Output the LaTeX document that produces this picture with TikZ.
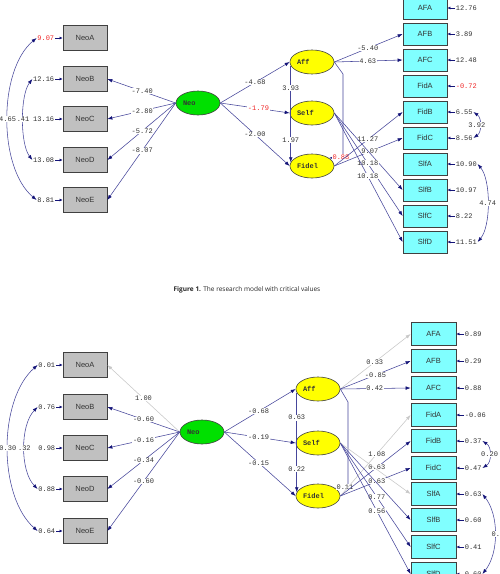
\documentclass[tikz,border=0pt]{standalone}
\usepackage{fontspec}
\setmainfont{Liberation Sans}
\newfontfamily\monof{Liberation Mono}
\newfontfamily\capf{Open Sans}
\usetikzlibrary{arrows.meta,shapes.geometric}
\definecolor{pathc}{RGB}{70,70,155}
\definecolor{tipc}{RGB}{20,20,120}
\definecolor{boxgray}{RGB}{192,192,192}
\definecolor{boxcyan}{RGB}{128,255,255}
\definecolor{latyel}{RGB}{255,255,0}
\definecolor{latgrn}{RGB}{0,224,0}
\definecolor{fixc}{RGB}{200,200,200}
\definecolor{txtc}{RGB}{50,50,50}
\definecolor{redc}{RGB}{240,40,40}
\tikzset{
 lbl/.style={font=\monof\fontsize{7}{8}\selectfont, text=txtc, fill=white, inner sep=0.6pt},
 rlbl/.style={lbl, text=redc},
 elbl/.style={font=\monof\fontsize{7}{8}\selectfont, text=txtc, inner sep=0.6pt},
 relbl/.style={elbl, text=redc},
 obsl/.style={rectangle, draw=black!75, line width=0.7pt, fill=boxgray, minimum width=44pt, minimum height=25pt, inner sep=0pt, font=\fontsize{7.5}{8}\selectfont, text=txtc},
 obsr/.style={obsl, fill=boxcyan, minimum height=22pt},
 obsrb/.style={obsl, fill=boxcyan, minimum width=45pt, minimum height=23pt},
 latv/.style={ellipse, draw=black!75, line width=0.6pt, fill=latyel, minimum width=44pt, minimum height=24pt, inner sep=0pt, text width=30pt, align=left, font=\monof\bfseries\fontsize{7}{8}\selectfont, text=black!80},
 pth/.style={draw=pathc, line width=0.55pt, -{Latex[length=5pt,width=3.6pt,color=tipc]}},
 fix/.style={draw=fixc, line width=0.55pt, -{Latex[length=5pt,width=3.6pt,color=fixc]}},
 err/.style={draw=tipc, line width=0.8pt, -{Latex[length=3pt,width=3pt]}},
 cov/.style={draw=pathc, line width=0.55pt, {Latex[length=5pt,width=3.6pt,color=tipc]}-{Latex[length=5pt,width=3.6pt,color=tipc]}},
}
\begin{document}
\begin{tikzpicture}[x=1pt,y=-1pt]
\useasboundingbox[fill=white] (0,0) rectangle (499,574);

%================ TOP DIAGRAM =================
\node[obsl] (tNeoA) at (85,38) {NeoA};
\node[obsl] (tNeoB) at (85,79) {NeoB};
\node[obsl] (tNeoC) at (85,119) {NeoC};
\node[obsl] (tNeoD) at (85,160) {NeoD};
\node[obsl] (tNeoE) at (85,200) {NeoE};
\node[relbl,anchor=east] (teNeoA) at (55,38) {9.07};
\node[elbl,anchor=east] (teNeoB) at (55,79) {12.16};
\node[elbl,anchor=east] (teNeoC) at (55,119) {13.16};
\node[elbl,anchor=east] (teNeoD) at (55,160) {13.08};
\node[elbl,anchor=east] (teNeoE) at (55,200) {8.81};
\foreach \v in {NeoA,NeoB,NeoC,NeoD,NeoE}{\draw[err] (te\v.east) -- (t\v.west);}
\draw[cov] (teNeoA.west) .. controls (-2,70) and (-2,168) .. node[lbl,pos=.5]{4.65} (teNeoE.west);
\draw[cov] (teNeoB.west) .. controls (20,95) and (20,144) .. node[lbl,pos=.5]{.41} (teNeoD.west);

\node[latv,fill=latgrn] (tNeo) at (198,103) {Neo};
\node[latv] (tAff) at (312,62) {Aff};
\node[latv] (tSelf) at (312,113) {Self};
\node[latv] (tFidel) at (312,166) {Fidel};

\node[obsr] (tAFA) at (425,8) {AFA};
\node[obsr] (tAFB) at (425,34) {AFB};
\node[obsr] (tAFC) at (425,60) {AFC};
\node[obsr] (tFidA) at (425,86) {FidA};
\node[obsr] (tFidB) at (425,112) {FidB};
\node[obsr] (tFidC) at (425,138) {FidC};
\node[obsr] (tSlfA) at (425,164) {SlfA};
\node[obsr] (tSlfB) at (425,190) {SlfB};
\node[obsr] (tSlfC) at (425,216) {SlfC};
\node[obsr] (tSlfD) at (425,242) {SlfD};
\node[elbl,anchor=west] (teAFA) at (455,8) {12.76};
\node[elbl,anchor=west] (teAFB) at (455,34) {3.89};
\node[elbl,anchor=west] (teAFC) at (455,60) {12.48};
\node[relbl,anchor=west] (teFidA) at (455,86) {-0.72};
\node[elbl,anchor=west] (teFidB) at (455,112) {6.55};
\node[elbl,anchor=west] (teFidC) at (455,138) {8.56};
\node[elbl,anchor=west] (teSlfA) at (455,164) {10.90};
\node[elbl,anchor=west] (teSlfB) at (455,190) {10.97};
\node[elbl,anchor=west] (teSlfC) at (455,216) {8.22};
\node[elbl,anchor=west] (teSlfD) at (455,242) {11.51};
\foreach \v in {AFA,AFB,AFC,FidA,FidB,FidC,SlfA,SlfB,SlfC,SlfD}{\draw[err] (te\v.west) -- (t\v.east);}
\draw[cov] (teFidB.east) .. controls (482,118) and (482,132) .. node[lbl,pos=.5,xshift=-3pt]{3.92} (teFidC.east);
\draw[cov] (teSlfA.east) .. controls (491,180) and (491,226) .. node[lbl,pos=.5]{4.74} (teSlfD.east);

\draw[pth] (tNeo.west) -- node[lbl,pos=.49]{-7.40} (tNeoB.east);
\draw[pth] (tNeo.west) -- node[lbl,pos=.49]{-2.80} (tNeoC.east);
\draw[pth] (tNeo.west) -- node[lbl,pos=.49]{-5.72} (tNeoD.east);
\draw[pth] (tNeo.west) -- node[lbl,pos=.49]{-8.07} (tNeoE.east);
\draw[pth] (tNeo.east) -- node[lbl,pos=.5]{-4.68} (tAff.west);
\draw[pth] (tNeo.east) -- node[rlbl,pos=.55]{-1.79} (tSelf.west);
\draw[pth] (tNeo.east) -- node[lbl,pos=.5]{-2.00} (tFidel.west);
\draw[pth] (tAff.190) -- node[lbl,pos=.23]{3.93} node[lbl,pos=.77]{1.97} (tFidel.170);
\coordinate (tc1) at (343,74);
\coordinate (tc2) at (343,157);
\draw[pth] (tAff.east) -- (tc1) -- (tc2) -- node[rlbl,pos=0,xshift=-2pt]{0.88} (tFidel.25);
\draw[pth] (tAff.east) -- node[lbl,pos=.49]{-5.40} (tAFB.west);
\draw[pth] (tAff.east) -- node[lbl,pos=.49]{4.63} (tAFC.west);
\draw[pth] (tFidel.east) -- node[lbl,pos=.49]{11.27} (tFidB.west);
\draw[pth] (tFidel.east) -- node[lbl,pos=.52]{9.07} (tFidC.west);
\draw[pth] (tSelf.east) -- (tSlfB.west);
\draw[pth] (tSelf.east) -- node[lbl,pos=.49]{10.18} (tSlfC.west);
\draw[pth] (tSelf.east) -- node[lbl,pos=.49]{10.18} (tSlfD.west);

\node[font=\capf\fontsize{6.5}{8}\selectfont, text=black!85] (cap) at (247,290) {\textbf{Figure 1.} The research model with critical values};

%================ BOTTOM DIAGRAM =================
\node[obsl] (bNeoA) at (85,365) {NeoA};
\node[obsl] (bNeoB) at (85,407) {NeoB};
\node[obsl] (bNeoC) at (85,448) {NeoC};
\node[obsl] (bNeoD) at (85,489) {NeoD};
\node[obsl] (bNeoE) at (85,531) {NeoE};
\node[elbl,anchor=east] (beNeoA) at (56,365) {0.01};
\node[elbl,anchor=east] (beNeoB) at (56,407) {0.76};
\node[elbl,anchor=east] (beNeoC) at (56,448) {0.98};
\node[elbl,anchor=east] (beNeoD) at (56,489) {0.88};
\node[elbl,anchor=east] (beNeoE) at (56,531) {0.64};
\foreach \v in {NeoA,NeoB,NeoC,NeoD,NeoE}{\draw[err] (be\v.east) -- (b\v.west);}
\draw[cov] (beNeoA.west) .. controls (-2,400) and (-2,496) .. node[lbl,pos=.5]{0.30} (beNeoE.west);
\draw[cov] (beNeoB.west) .. controls (20,425) and (20,471) .. node[lbl,pos=.5]{.32} (beNeoD.west);

\node[latv,fill=latgrn] (bNeo) at (202,432) {Neo};
\node[latv] (bAff) at (318,389) {Aff};
\node[latv] (bSelf) at (318,443) {Self};
\node[latv] (bFidel) at (318,496) {Fidel};

\node[obsrb] (bAFA) at (433.5,334) {AFA};
\node[obsrb] (bAFB) at (433.5,361) {AFB};
\node[obsrb] (bAFC) at (433.5,388) {AFC};
\node[obsrb] (bFidA) at (433.5,415) {FidA};
\node[obsrb] (bFidB) at (433.5,441) {FidB};
\node[obsrb] (bFidC) at (433.5,468) {FidC};
\node[obsrb] (bSlfA) at (433.5,494) {SlfA};
\node[obsrb] (bSlfB) at (433.5,520) {SlfB};
\node[obsrb] (bSlfC) at (433.5,547) {SlfC};
\node[obsrb] (bSlfD) at (433.5,574) {SlfD};
\node[elbl,anchor=west] (beAFA) at (464,334) {0.89};
\node[elbl,anchor=west] (beAFB) at (464,361) {0.29};
\node[elbl,anchor=west] (beAFC) at (464,388) {0.88};
\node[elbl,anchor=west] (beFidA) at (464,415) {-0.06};
\node[elbl,anchor=west] (beFidB) at (464,441) {0.37};
\node[elbl,anchor=west] (beFidC) at (464,468) {0.47};
\node[elbl,anchor=west] (beSlfA) at (464,494) {0.63};
\node[elbl,anchor=west] (beSlfB) at (464,520) {0.60};
\node[elbl,anchor=west] (beSlfC) at (464,547) {0.41};
\node[elbl,anchor=west] (beSlfD) at (464,574) {0.60};
\foreach \v in {AFA,AFB,AFC,FidA,FidB,FidC,SlfA,SlfB,SlfC,SlfD}{\draw[err] (be\v.west) -- (b\v.east);}
\draw[cov] (beFidB.east) .. controls (492,447) and (492,462) .. node[lbl,pos=.5]{0.20} (beFidC.east);
\draw[cov] (beSlfA.east) .. controls (499,515) and (499,553) .. node[lbl,pos=.5,anchor=west,xshift=-4pt]{0.2} (beSlfD.east);

\draw[fix] (bNeo.west) -- node[lbl,pos=.5]{1.00} (bNeoA.east);
\draw[pth] (bNeo.west) -- node[lbl,pos=.5]{-0.60} (bNeoB.east);
\draw[pth] (bNeo.west) -- node[lbl,pos=.5]{-0.16} (bNeoC.east);
\draw[pth] (bNeo.west) -- node[lbl,pos=.5]{-0.34} (bNeoD.east);
\draw[pth] (bNeo.west) -- node[lbl,pos=.5]{-0.60} (bNeoE.east);
\draw[pth] (bNeo.east) -- node[lbl,pos=.48]{-0.68} (bAff.west);
\draw[pth] (bNeo.east) -- node[lbl,pos=.48]{-0.19} (bSelf.west);
\draw[pth] (bNeo.east) -- node[lbl,pos=.48]{-0.15} (bFidel.west);
\draw[pth] (bAff.190) -- node[lbl,pos=.25]{0.63} node[lbl,pos=.77]{0.22} (bFidel.170);
\coordinate (bc1) at (348,402);
\coordinate (bc2) at (348,487);
\draw[pth] (bAff.east) -- (bc1) -- (bc2) -- node[lbl,pos=0,xshift=-3pt]{0.11} (bFidel.25);
\draw[fix] (bAff.east) -- node[lbl,pos=.49]{0.33} (bAFA.west);
\draw[pth] (bAff.east) -- node[lbl,pos=.5]{-0.85} (bAFB.west);
\draw[pth] (bAff.east) -- node[lbl,pos=.49]{0.42} (bAFC.west);
\draw[fix] (bFidel.east) -- node[lbl,pos=.52]{1.08} (bFidA.west);
\draw[pth] (bFidel.east) -- node[lbl,pos=.52]{0.63} (bFidB.west);
\draw[fix] (bSelf.east) -- (bSlfA.west);
\draw[pth] (bFidel.east) -- node[lbl,pos=.52]{0.63} (bFidC.west);
\draw[pth] (bSelf.east) -- (bSlfB.west);
\draw[pth] (bSelf.east) -- node[lbl,pos=.52]{0.77} (bSlfC.west);
\draw[pth] (bSelf.east) -- node[lbl,pos=.52]{0.56} (bSlfD.west);
\end{tikzpicture}
\end{document}
